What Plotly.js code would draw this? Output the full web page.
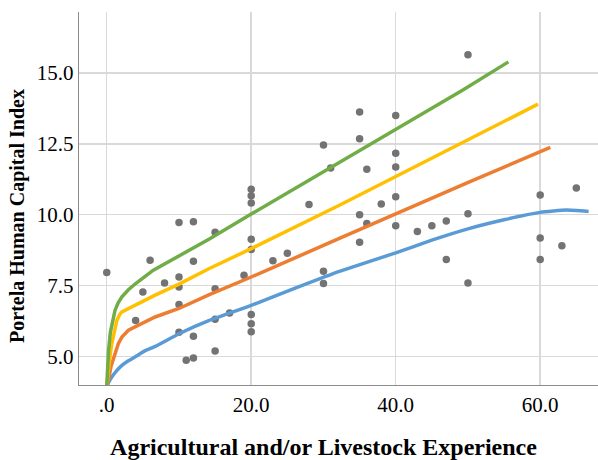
<!DOCTYPE html>
<html>
<head>
<meta charset="utf-8">
<script src="https://cdn.plot.ly/plotly-3.0.1.min.js"></script>
<style>html,body{margin:0;padding:0;background:#fff;}#chart{width:598px;height:460px;}</style>
</head>
<body>
<div id="chart"></div>
<script>
// Observed data points (experience, index)
const pointX = [0,4,5,6,8,10,10,10,10,10,11,12,12,12,12,15,15,15,15,17,19,20,20,20,20,20,20,20,20,23,25,28,30,30,30,31,35,35,35,35,36,36,38,40,40,40,40,40,43,45,47,47,50,50,50,60,60,60,63,65];
const pointY = [7.96,6.27,7.27,8.39,7.59,9.72,7.80,7.45,6.83,5.85,4.86,9.75,8.36,5.71,4.94,9.38,7.39,6.31,5.19,6.53,7.86,10.90,10.67,10.41,9.13,8.77,6.48,6.15,5.87,8.37,8.64,10.36,12.46,8.00,7.57,11.65,13.62,12.68,10.00,9.03,11.60,9.69,10.38,13.50,12.17,11.68,10.63,9.61,9.41,9.61,9.78,8.42,15.64,10.03,7.59,10.69,9.18,8.42,8.90,10.94];

// Fitted curves
const greenX = [0,0.1,0.25,0.5,0.75,1.15,1.6,2.1,3,4,6.45,10,14.2,20,32.2,49.3,55.6];
const greenY = [3.95,4.6,5.2,5.85,6.2,6.63,6.9,7.1,7.35,7.57,8.04,8.55,9.14,10.02,11.85,14.4,15.39];

const yellowX = [0,0.2,0.45,0.7,1.0,1.4,1.8,2.1,6.7,10,14.2,20,32.2,50.2,59.7];
const yellowY = [3.95,4.5,5.0,5.45,5.85,6.27,6.48,6.57,7.16,7.55,8.10,8.80,10.33,12.66,13.90];

const orangeX = [0,0.22,0.6,1.15,1.6,2.1,2.6,3.0,6.7,10,14.2,20,32.2,50.2,61.4];
const orangeY = [3.95,4.15,4.65,5.10,5.45,5.68,5.83,5.92,6.39,6.69,7.18,7.80,9.16,11.16,12.37];

const blueX = [0,0.3,0.7,1.3,2.1,3.1,3.9,5.4,6.7,10,14.2,20,26,32.2,40,45,50,55,60,63.6,66.7];
const blueY = [3.92,4.1,4.27,4.47,4.68,4.86,4.98,5.21,5.35,5.80,6.27,6.80,7.4,8.00,8.65,9.10,9.50,9.82,10.08,10.16,10.11];

const xTickVals = [0,20,40,60];
const xTickText = ['.0','20.0','40.0','60.0'];
const yTickVals = [5,7.5,10,12.5,15];
const yTickText = ['5.0','7.5','10.0','12.5','15.0'];

const serif = 'Liberation Serif, Times New Roman, serif';
const lw = 3.5;
const pad = n => '\u00a0'.repeat(n);
const traces = [
  {x: pointX, y: pointY, mode: 'markers', type: 'scatter', name: 'Observed',
   marker: {color: '#737373', size: 7.5}},
  {x: blueX, y: blueY, mode: 'lines', type: 'scatter', name: 'Blue', line: {color: '#5b9bd5', width: lw, shape: 'spline', smoothing: 0.4}},
  {x: orangeX, y: orangeY, mode: 'lines', type: 'scatter', name: 'Orange', line: {color: '#ed7d31', width: lw}},
  {x: yellowX, y: yellowY, mode: 'lines', type: 'scatter', name: 'Yellow', line: {color: '#ffc000', width: lw}},
  {x: greenX, y: greenY, mode: 'lines', type: 'scatter', name: 'Green', line: {color: '#70ad47', width: lw}}
];

const layout = {
  width: 598, height: 460,
  margin: {l: 79, r: 0, t: 12, b: 75},
  paper_bgcolor: '#ffffff', plot_bgcolor: '#ffffff',
  showlegend: false,
  font: {family: serif, color: '#000', size: 21},
  xaxis: {
    range: [-3.84, 68.0],
    tickvals: xTickVals, ticktext: xTickText,
    showgrid: true, gridcolor: '#d9d9d9', gridwidth: 1.5,
    zeroline: false, showline: true, linecolor: '#8c8c8c', linewidth: 1.3,
    ticks: '', tickfont: {family: serif, size: 21, color: '#000'},
    title: {text: '<b>Agricultural and/or Livestock Experience' + pad(5) + '</b>', font: {family: serif, size: 24, color: '#000'}, standoff: 44}
  },
  yaxis: {
    range: [3.99, 17.15],
    tickvals: yTickVals, ticktext: yTickText,
    showgrid: true, gridcolor: '#d9d9d9', gridwidth: 1.5,
    zeroline: false, showline: true, linecolor: '#8c8c8c', linewidth: 1.3,
    ticks: '', tickfont: {family: serif, size: 21, color: '#000'},
    title: {text: '<b>Portela Human Capital Index' + pad(7) + '</b>', font: {family: serif, size: 20, color: '#000'}, standoff: 6}
  }
};

Plotly.newPlot('chart', traces, layout, {displayModeBar: false, staticPlot: true});
</script>
</body>
</html>
